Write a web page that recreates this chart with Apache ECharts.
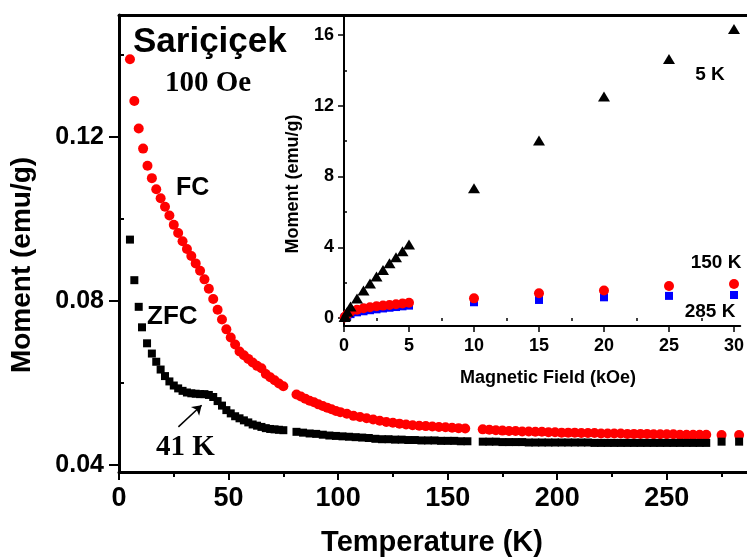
<!DOCTYPE html>
<html>
<head>
<meta charset="utf-8">
<script src="https://cdn.jsdelivr.net/npm/echarts@6/dist/echarts.min.js"></script>
<style>
  html, body { margin: 0; padding: 0; background: #fff; }
  #chart { width: 747px; height: 559px; }
</style>
</head>
<body>
<div id="chart"></div>
<script>
// main plot: moment vs temperature, 100 Oe
const fcT = [5,7,9,11,13,15,17,19,21,23,25,27,29,31,33,35,37,39,41,43,45,47,49,51,53,55,57,59,61,63,65,67,69,71,73,75,
  81,83,85,87,89,91,93,95,97,99,101,104,107,110,113,116,119,122,125,128,131,134,137,140,143,146,149,152,155,158,
  166,169,172,175,178,181,184,187,190,193,196,199,202,205,208,211,214,217,220,223,226,229,232,235,238,241,244,247,250,253,256,259,262,265,268,275,283];
const fcM = [0.1390,0.1288,0.1221,0.1172,0.1130,0.1100,0.1073,0.1051,0.1030,0.1009,0.0986,0.0966,0.0946,0.0927,0.0910,0.0892,0.0874,0.0853,0.0830,0.0805,0.0779,0.0755,0.0731,0.0711,0.0694,0.0677,0.0668,0.0659,0.0650,0.0642,0.0636,0.0622,0.0614,0.0607,0.0599,0.0592,
  0.0572,0.0567,0.0562,0.0557,0.0553,0.0548,0.0544,0.0540,0.0536,0.0532,0.0529,0.0525,0.0520,0.0517,0.0514,0.0511,0.0508,0.0505,0.0503,0.0501,0.0499,0.0497,0.0496,0.0495,0.0494,0.0493,0.0492,0.0491,0.0490,0.0489,
  0.0487,0.0486,0.0485,0.0484,0.0483,0.0483,0.0482,0.0482,0.0481,0.0481,0.0480,0.0480,0.0479,0.0479,0.0479,0.0478,0.0478,0.0478,0.0477,0.0477,0.0477,0.0477,0.0476,0.0476,0.0476,0.0476,0.0475,0.0475,0.0475,0.0475,0.0474,0.0474,0.0474,0.0474,0.0474,0.0473,0.0473];

const zfcT = [5,7,9,10.5,12.8,15,17,19,21,23,25,27,29,31,33,35,37,39,41,43,45,47,49,51,53,55,57,59,61,63,65,67,69,71,73,75,
  81,84,87,90,93,96,99,102,105,108,111,114,117,120,123,126,129,132,135,138,141,144,147,150,153,156,159,
  166,169,172,175,178,181,184,187,190,193,196,199,202,205,208,211,214,217,220,223,226,229,232,235,238,241,244,247,250,253,256,259,262,265,268,275,283];
const zfcM = [0.0950,0.0851,0.0786,0.0736,0.0697,0.0672,0.0652,0.0633,0.0617,0.0604,0.0594,0.0587,0.0581,0.0577,0.0575,0.0574,0.0573,0.0573,0.0571,0.0566,0.0556,0.0545,0.0534,0.0526,0.0519,0.0514,0.0509,0.0504,0.0499,0.0496,0.0493,0.0490,0.0488,0.0487,0.0486,0.0485,
  0.0481,0.0479,0.0477,0.0476,0.0474,0.0472,0.0471,0.0470,0.0469,0.0468,0.0467,0.0466,0.0464,0.0463,0.0463,0.0462,0.0462,0.0461,0.0461,0.0460,0.0460,0.0460,0.0459,0.0459,0.0459,0.0458,0.0458,
  0.0457,0.0457,0.0457,0.0456,0.0456,0.0456,0.0456,0.0455,0.0455,0.0455,0.0455,0.0455,0.0455,0.0455,0.0455,0.0455,0.0455,0.0454,0.0454,0.0454,0.0454,0.0454,0.0454,0.0454,0.0454,0.0454,0.0454,0.0454,0.0454,0.0454,0.0454,0.0454,0.0454,0.0454,0.0454,0.0457,0.0457];

const tempTicks = [0, 50, 100, 150, 200, 250];
const tempMinor = [25, 75, 125, 175, 225, 275];
const momTicks = [0.04, 0.08, 0.12];
const momMinor = [0.06, 0.10, 0.14];

// inset: moment vs field
const fieldH = [0.05,0.1,0.25,0.5,1,1.5,2,2.5,3,3.5,4,4.5,5,10,15,20,25,30];
const m5K   = [0.05,0.12,0.35,0.65,1.1,1.55,1.95,2.35,2.72,3.1,3.44,3.78,4.15,7.34,10.03,12.52,14.64,16.34];
const m150K = [0.03,0.08,0.2,0.35,0.47,0.55,0.61,0.66,0.7,0.74,0.78,0.82,0.86,1.11,1.40,1.55,1.81,1.92];
const m285K = [0.02,0.05,0.12,0.22,0.32,0.38,0.44,0.49,0.54,0.58,0.62,0.66,0.70,0.89,1.02,1.17,1.25,1.30];

const fieldTicks = [0, 5, 10, 15, 20, 25, 30];
const fieldMinor = [2.5, 7.5, 12.5, 17.5, 22.5, 27.5];
const insetTicks = [0, 4, 8, 12, 16];
const insetMinor = [2, 6, 10, 14];

const SANS = "'Liberation Sans', Arial, sans-serif";
const SERIF = "'Liberation Serif', 'Times New Roman', serif";

const pairs = (xs, ys) => xs.map((x, i) => [x, ys[i]]);

const chart = echarts.init(document.getElementById('chart'));

const blackLine = w => ({ show: true, onZero: false, lineStyle: { color: '#000', width: w } });

const option = {
  animation: false,
  backgroundColor: '#fff',
  grid: [
    { left: 119, top: 15, right: 0, bottom: 87 },
    { left: 344, top: 15, right: 0, bottom: 233, show: true, backgroundColor: '#fff', borderWidth: 0 }
  ],
  xAxis: [
    {
      gridIndex: 0, type: 'value', min: 0, max: 286.6, position: 'bottom',
      axisLine: blackLine(3),
      axisTick: { customValues: tempTicks, length: 8, lineStyle: { color: '#000', width: 2 } },
      axisLabel: { customValues: tempTicks, margin: 13, fontSize: 27, fontWeight: 'bold', fontFamily: SANS, color: '#000' },
      splitLine: { show: false }
    },
    {
      gridIndex: 0, type: 'value', min: 0, max: 286.6, position: 'bottom',
      axisLine: { show: false },
      axisTick: { customValues: tempMinor, length: 5, lineStyle: { color: '#000', width: 2 } },
      axisLabel: { show: false }, splitLine: { show: false }
    },
    {
      gridIndex: 0, type: 'value', min: 0, max: 286.6, position: 'top',
      axisLine: blackLine(3), axisTick: { show: false }, axisLabel: { show: false }, splitLine: { show: false }
    },
    {
      gridIndex: 1, type: 'value', min: 0, max: 30.48, position: 'bottom',
      axisLine: blackLine(2),
      axisTick: { customValues: fieldTicks, length: 6, lineStyle: { color: '#000', width: 1.5 } },
      axisLabel: { customValues: fieldTicks, margin: 11, fontSize: 18, fontWeight: 'bold', fontFamily: SANS, color: '#000' },
      splitLine: { show: false }
    },
    {
      gridIndex: 1, type: 'value', min: 0, max: 30.48, position: 'bottom',
      axisLine: { show: false },
      axisTick: { customValues: fieldMinor, length: 3, lineStyle: { color: '#000', width: 1.5 } },
      axisLabel: { show: false }, splitLine: { show: false }
    }
  ],
  yAxis: [
    {
      gridIndex: 0, type: 'value', min: 0.0383, max: 0.1498,
      axisLine: blackLine(3),
      axisTick: { customValues: momTicks, length: 10, lineStyle: { color: '#000', width: 2 } },
      axisLabel: { customValues: momTicks, margin: 15, fontSize: 25, fontWeight: 'bold', fontFamily: SANS, color: '#000' },
      splitLine: { show: false }
    },
    {
      gridIndex: 0, type: 'value', min: 0.0383, max: 0.1498,
      axisLine: { show: false },
      axisTick: { customValues: momMinor, length: 5, lineStyle: { color: '#000', width: 2 } },
      axisLabel: { show: false }, splitLine: { show: false }
    },
    {
      gridIndex: 1, type: 'value', min: -0.452, max: 17.13,
      axisLine: blackLine(2),
      axisTick: { customValues: insetTicks, length: 6, lineStyle: { color: '#000', width: 1.5 } },
      axisLabel: { customValues: insetTicks, margin: 10, fontSize: 18, fontWeight: 'bold', fontFamily: SANS, color: '#000' },
      splitLine: { show: false }
    },
    {
      gridIndex: 1, type: 'value', min: -0.452, max: 17.13,
      axisLine: { show: false },
      axisTick: { customValues: insetMinor, length: 3, lineStyle: { color: '#000', width: 1.5 } },
      axisLabel: { show: false }, splitLine: { show: false }
    }
  ],
  series: [
    {
      name: 'FC', type: 'scatter', xAxisIndex: 0, yAxisIndex: 0,
      symbol: 'circle', symbolSize: 10, itemStyle: { color: '#ff0000', opacity: 1 },
      data: pairs(fcT, fcM)
    },
    {
      name: 'ZFC', type: 'scatter', xAxisIndex: 0, yAxisIndex: 0,
      symbol: 'rect', symbolSize: 8, itemStyle: { color: '#000', opacity: 1 },
      data: pairs(zfcT, zfcM),
      markLine: {
        silent: true, symbol: ['none', 'arrow'], symbolSize: 9,
        label: { show: false },
        lineStyle: { color: '#000', width: 1.5, type: 'solid' },
        data: [[{ coord: [27.1, 0.0493] }, { coord: [37.7, 0.0546] }]]
      }
    },
    {
      name: '285 K', type: 'scatter', xAxisIndex: 3, yAxisIndex: 2,
      symbol: 'rect', symbolSize: 8, itemStyle: { color: '#0000ff', opacity: 1 },
      data: pairs(fieldH, m285K)
    },
    {
      name: '150 K', type: 'scatter', xAxisIndex: 3, yAxisIndex: 2,
      symbol: 'circle', symbolSize: 10, itemStyle: { color: '#ff0000', opacity: 1 },
      data: pairs(fieldH, m150K)
    },
    {
      name: '5 K', type: 'scatter', xAxisIndex: 3, yAxisIndex: 2,
      symbol: 'triangle', symbolSize: [12, 10], itemStyle: { color: '#000', opacity: 1 },
      data: pairs(fieldH, m5K)
    }
  ],
  graphic: [
    { type: 'text', left: 133, top: 25, style: { text: 'Sariçiçek', font: "bold 35px " + SANS, fill: '#000' } },
    { type: 'text', x: 165, y: 84, style: { text: '100 Oe', font: "bold 29px " + SERIF, fill: '#000', verticalAlign: 'middle' } },
    { type: 'text', x: 176, y: 188, style: { text: 'FC', font: "bold 25px " + SANS, fill: '#000', verticalAlign: 'middle' } },
    { type: 'text', x: 147, y: 317, style: { text: 'ZFC', font: "bold 26px " + SANS, fill: '#000', verticalAlign: 'middle' } },
    { type: 'text', x: 156, y: 448, style: { text: '41 K', font: "bold 29px " + SERIF, fill: '#000', verticalAlign: 'middle' } },
    { type: 'text', x: 710, y: 75, style: { text: '5 K', font: "bold 19px " + SANS, fill: '#000', align: 'center', verticalAlign: 'middle' } },
    { type: 'text', x: 716, y: 263, style: { text: '150 K', font: "bold 19px " + SANS, fill: '#000', align: 'center', verticalAlign: 'middle' } },
    { type: 'text', x: 710, y: 312, style: { text: '285 K', font: "bold 19px " + SANS, fill: '#000', align: 'center', verticalAlign: 'middle' } },
    { type: 'text', x: 548, y: 378, style: { text: 'Magnetic Field (kOe)', font: "bold 18px " + SANS, fill: '#000', align: 'center', verticalAlign: 'middle' } },
    { type: 'text', x: 293, y: 184, rotation: Math.PI / 2, style: { text: 'Moment (emu/g)', font: "bold 18px " + SANS, fill: '#000', align: 'center', verticalAlign: 'middle' } },
    { type: 'text', x: 432, y: 543, style: { text: 'Temperature (K)', font: "bold 29px " + SANS, fill: '#000', align: 'center', verticalAlign: 'middle' } },
    { type: 'text', x: 22, y: 265, rotation: Math.PI / 2, style: { text: 'Moment (emu/g)', font: "bold 28px " + SANS, fill: '#000', align: 'center', verticalAlign: 'middle' } }
  ]
};

option && chart.setOption(option);
</script>
</body>
</html>
